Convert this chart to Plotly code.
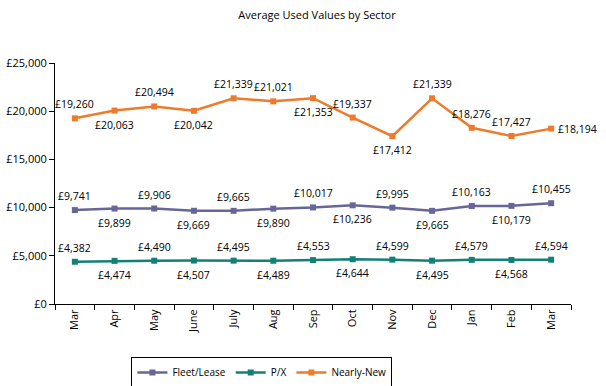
import plotly.graph_objects as go

months = ["Mar", "Apr", "May", "June", "July", "Aug", "Sep", "Oct", "Nov", "Dec", "Jan", "Feb", "Mar"]
fleet_lease = [9741, 9899, 9906, 9669, 9665, 9890, 10017, 10236, 9995, 9665, 10163, 10179, 10455]
px_values = [4382, 4474, 4490, 4507, 4495, 4489, 4553, 4644, 4599, 4495, 4579, 4568, 4594]
nearly_new = [19260, 20063, 20494, 20042, 21339, 21021, 21353, 19337, 17412, 21339, 18276, 17427, 18194]

alt_pos = ["top" if i % 2 == 0 else "bottom" for i in range(len(months))]
nn_pos = ["top", "bottom", "top", "bottom", "top", "top", "bottom", "top", "bottom", "top", "top", "top", "right"]

FONT = "Open Sans"
x = list(range(len(months)))

fig = go.Figure()
annotations = []

def add_series(name, vals, color, pos):
    fig.add_trace(go.Scatter(
        x=x, y=vals, name=name, mode="lines+markers",
        line=dict(color=color, width=2.5),
        marker=dict(symbol="square", size=6, color=color),
        cliponaxis=False,
    ))
    for xi, v, p in zip(x, vals, pos):
        a = dict(x=xi, y=v, xref="x", yref="y", text=f"£{v:,}", showarrow=False,
                 font=dict(family=FONT, size=10.5, color="black"))
        if p == "top":
            a.update(yshift=14)
        elif p == "bottom":
            a.update(yshift=-14)
        else:
            a.update(xanchor="left", xshift=5)
        annotations.append(a)

add_series("Fleet/Lease", fleet_lease, "#666699", alt_pos)
add_series("P/X", px_values, "#138075", alt_pos)
add_series("Nearly-New", nearly_new, "#EE7B2B", nn_pos)

fig.update_layout(
    width=606, height=386,
    margin=dict(l=55, r=35, t=63, b=82, autoexpand=False),
    paper_bgcolor="white", plot_bgcolor="white",
    font=dict(family=FONT, size=10, color="black"),
    title=dict(text="Average Used Values by Sector", x=317 / 606, xanchor="center", y=1 - 15 / 386, yanchor="middle",
               font=dict(family=FONT, size=11, color="black")),
    showlegend=True,
    legend=dict(orientation="h", x=0.401, xanchor="center", y=-0.22, yanchor="top",
                bordercolor="black", borderwidth=1, font=dict(family=FONT, size=10),
                itemwidth=30, tracegroupgap=0),
    annotations=annotations,
)
fig.update_xaxes(
    range=[-0.5, 12.5], tickmode="array", tickvals=x, ticktext=months, tickangle=-90,
    ticks="", showline=True, linecolor="black", linewidth=1, showgrid=False, zeroline=False,
    minor=dict(tick0=-0.5, dtick=1, ticks="outside", ticklen=5, tickcolor="black", showgrid=False),
    tickfont=dict(family=FONT, size=11), automargin=False,
)
fig.update_yaxes(
    range=[0, 25000], dtick=5000, tickprefix="£", tickformat=",d",
    ticks="outside", ticklen=5, tickcolor="black", showline=True, linecolor="black", linewidth=1,
    showgrid=False, zeroline=False, tickfont=dict(family=FONT, size=11), automargin=False,
)

fig.write_html("out.html", config={"displayModeBar": False},
               post_script="document.body.style.margin='0';document.body.style.overflow='hidden';")
